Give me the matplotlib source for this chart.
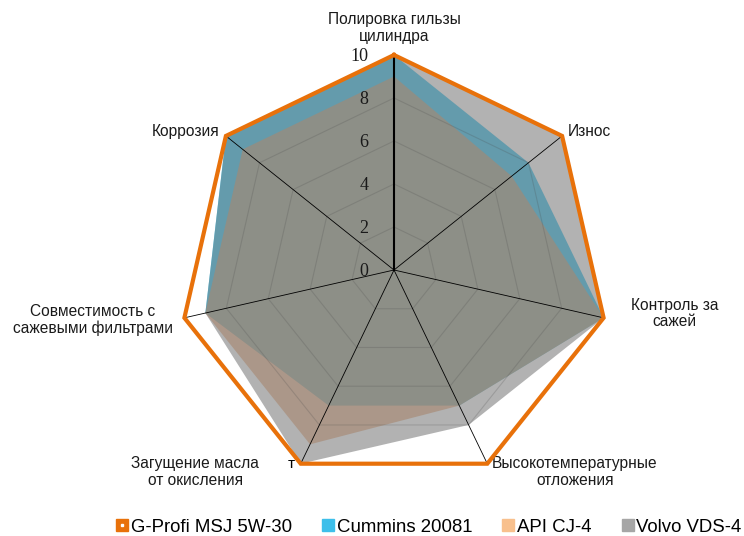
import numpy as np
import matplotlib
matplotlib.use("Agg")
import matplotlib.pyplot as plt
from matplotlib.lines import Line2D
from matplotlib.legend_handler import HandlerTuple

# --------------------------------------------------
# Data
# --------------------------------------------------
categories = [
    "Полировка гильзы\nцилиндра",
    "Износ",
    "Контроль за\nсажей",
    "Высокотемпературные\nотложения",
    "Загущение масла\nот окисления",
    "Совместимость с\nсажевыми фильтрами",
    "Коррозия",
]
gprofi = [10, 10, 10, 10, 10, 10, 10]
cummins = [10, 8, 10, 7, 7, 9, 10]
api_cj4 = [9, 7, 10, 7, 9, 9, 9]
volvo = [10, 10, 10, 8, 10, 9, 10]
series_names = ["G-Profi MSJ 5W-30", "Cummins 20081", "API CJ-4", "Volvo VDS-4"]
ticks = [0, 2, 4, 6, 8, 10]

# label placement: (offset in points, ha, va)
label_pos = [
    ((0, 8), "center", "bottom"),
    ((4, 3), "left", "center"),
    ((51, 3), "center", "center"),
    ((63, -6), "center", "center"),
    ((-76, -6), "center", "center"),
    ((-66, -1.5), "center", "center"),
    ((-4.5, 3), "right", "center"),
]

orange = "#E8710A"
n = len(categories)
theta = np.pi / 2 - np.arange(n) * 2 * np.pi / n


def xy(vals):
    v = np.asarray(vals, dtype=float)
    return v * np.cos(theta), v * np.sin(theta)


fig = plt.figure(figsize=(7.44, 5.36), dpi=100)
ax = fig.add_axes([0, 0, 1, 1])
s = 21.5  # px per unit
ax.set_xlim(-394 / s, (744 - 394) / s)
ax.set_ylim(-(536 - 270) / s, 270 / s)
ax.axis("off")

# filled series
fills = [
    (cummins, "#33C3F0", 0.95),
    (api_cj4, "#E3945A", 0.62),
    (volvo, "#7F7F7F", 0.6),
]
for i, (vals, col, a) in enumerate(fills):
    fx, fy = xy(vals)
    ax.fill(fx, fy, color=col, alpha=a, lw=0, zorder=2 + i)

# grid rings (show through the fills)
for t in ticks[1:]:
    gx, gy = xy([t] * n)
    ax.plot(np.append(gx, gx[0]), np.append(gy, gy[0]),
            color="#4a4a4a", alpha=0.22, lw=0.8, zorder=5)

# spokes
ex, ey = xy([10] * n)
for i in range(n):
    ax.plot([0, ex[i]], [0, ey[i]], color="black",
            lw=1.5 if i == 0 else 0.6, zorder=6)

# G-Profi outline
ox, oy = xy(gprofi)
ax.plot(np.append(ox, ox[0]), np.append(oy, oy[0]), color=orange,
        lw=3, solid_joinstyle="miter", zorder=7)

# value ticks along the top axis
for t in ticks:
    ax.annotate(str(t), xy=(0, t), xytext=(-18.5, -1), textcoords="offset points",
                ha="right", va="center", fontsize=13,
                family="Liberation Serif", color="#1a1a1a", zorder=8)

# category labels
for i, lab in enumerate(categories):
    off, ha, va = label_pos[i]
    ax.annotate(lab, xy=(ex[i], ey[i]), xytext=off, textcoords="offset points",
                ha=ha, va=va, multialignment="center", fontsize=11.2,
                family="Liberation Sans", color="#1a1a1a", linespacing=1.12)

# stray label fragment next to the lower-left vertex
ax.annotate("т", xy=(ex[4], ey[4]), xytext=(-7, 0), textcoords="offset points",
            ha="center", va="center", fontsize=11, family="Liberation Sans")

# legend
h0 = (Line2D([], [], ls="none", marker="s", ms=9, mfc=orange, mec=orange),
      Line2D([], [], ls="none", marker="s", ms=2, mfc="white", mec="white"))
h1 = Line2D([], [], ls="none", marker="s", ms=8, mfc="#3DBFEA", mec="#3DBFEA")
h2 = Line2D([], [], ls="none", marker="s", ms=8, mfc="#F8C08D", mec="#F8C08D")
h3 = Line2D([], [], ls="none", marker="s", ms=8, mfc="#A6A6A6", mec="#A6A6A6")
fig.legend([h0, h1, h2, h3], series_names, loc="center",
           bbox_to_anchor=(429 / 744, 1 - 527 / 536), ncol=4, frameon=False,
           handler_map={tuple: HandlerTuple(ndivide=1, pad=0)},
           prop={"family": "Liberation Sans", "size": 13.4},
           handlelength=0.6, handletextpad=0.15, columnspacing=1.65,
           borderaxespad=0)

fig.savefig("out.png", dpi=100)
